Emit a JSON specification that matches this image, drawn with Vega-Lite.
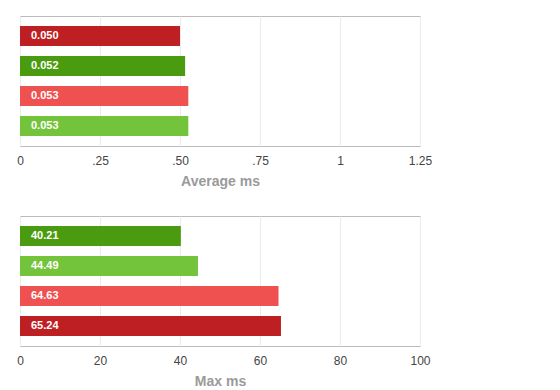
{
  "$schema": "https://vega.github.io/schema/vega-lite/v6.json",
  "padding": {"left": 16, "top": 15, "right": 5, "bottom": 0},
  "spacing": 26,
  "background": "white",
  "config": {
    "view": {"stroke": "#bbbbbb", "strokeWidth": 1},
    "font": "Liberation Sans",
    "axis": {
      "domain": false,
      "ticks": false,
      "grid": true,
      "gridColor": "#ebebeb",
      "labelColor": "#444444",
      "labelFontSize": 12,
      "labelPadding": 9,
      "labelFlush": false,
      "titleColor": "#9a9a9a",
      "titleFontSize": 14,
      "titleFontWeight": "bold",
      "titlePadding": 8
    }
  },
  "datasets": {
    "avg": [
      {"rank": 1, "series": "dark red", "value": 0.500, "label": "0.050"},
      {"rank": 2, "series": "dark green", "value": 0.516, "label": "0.052"},
      {"rank": 3, "series": "light red", "value": 0.526, "label": "0.053"},
      {"rank": 4, "series": "light green", "value": 0.526, "label": "0.053"}
    ],
    "max": [
      {"rank": 1, "series": "dark green", "value": 40.21, "label": "40.21"},
      {"rank": 2, "series": "light green", "value": 44.49, "label": "44.49"},
      {"rank": 3, "series": "light red", "value": 64.63, "label": "64.63"},
      {"rank": 4, "series": "dark red", "value": 65.24, "label": "65.24"}
    ]
  },
  "vconcat": [
    {
      "width": 400,
      "height": 130,
      "data": {"name": "avg"},
      "encoding": {
        "y": {"field": "rank", "type": "ordinal", "axis": null, "scale": {"paddingInner": 0.3333, "paddingOuter": 0.3333}}
      },
      "layer": [
        {
          "mark": {"type": "bar"},
          "encoding": {
            "x": {
              "field": "value", "type": "quantitative",
              "scale": {"domain": [0, 1.25], "nice": false},
              "axis": {
                "values": [0, 0.25, 0.5, 0.75, 1, 1.25],
                "title": "Average ms",
                "labelExpr": "datum.value == 0 ? '0' : datum.value < 1 ? replace(format(datum.value, '.2f'), '0.', '.') : format(datum.value, '~g')"
              }
            },
            "color": {
              "field": "series", "type": "nominal", "legend": null,
              "scale": {"domain": ["dark red", "dark green", "light red", "light green"], "range": ["#bd1f22", "#4a9b0f", "#ef5050", "#74c43b"]}
            }
          }
        },
        {
          "mark": {"type": "text", "align": "left", "baseline": "middle", "dx": 11, "color": "white", "fontWeight": "bold", "fontSize": 11},
          "encoding": {
            "x": {"datum": 0, "type": "quantitative"},
            "text": {"field": "label"}
          }
        }
      ]
    },
    {
      "width": 400,
      "height": 130,
      "data": {"name": "max"},
      "encoding": {
        "y": {"field": "rank", "type": "ordinal", "axis": null, "scale": {"paddingInner": 0.3333, "paddingOuter": 0.3333}}
      },
      "layer": [
        {
          "mark": {"type": "bar"},
          "encoding": {
            "x": {
              "field": "value", "type": "quantitative",
              "scale": {"domain": [0, 100], "nice": false},
              "axis": {"values": [0, 20, 40, 60, 80, 100], "title": "Max ms"}
            },
            "color": {
              "field": "series", "type": "nominal", "legend": null,
              "scale": {"domain": ["dark red", "dark green", "light red", "light green"], "range": ["#bd1f22", "#4a9b0f", "#ef5050", "#74c43b"]}
            }
          }
        },
        {
          "mark": {"type": "text", "align": "left", "baseline": "middle", "dx": 11, "color": "white", "fontWeight": "bold", "fontSize": 11},
          "encoding": {
            "x": {"datum": 0, "type": "quantitative"},
            "text": {"field": "label"}
          }
        }
      ]
    }
  ]
}
